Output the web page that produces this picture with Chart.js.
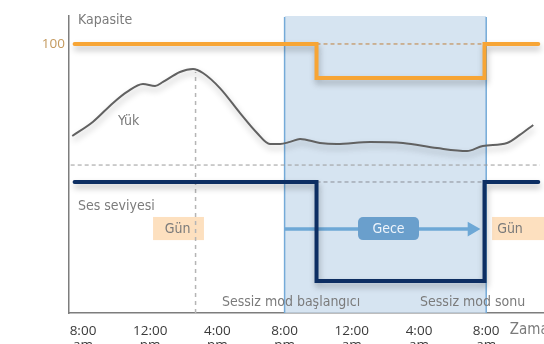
<!DOCTYPE html>
<html><head><meta charset="utf-8">
<script src="https://cdn.jsdelivr.net/npm/chart.js@4/dist/chart.umd.min.js"></script>
<style>html,body{margin:0;padding:0;background:#fff;}canvas{display:block}</style>
</head><body>
<canvas id="c" width="544" height="344"></canvas>
<script>
// x = hours after 8:00 am ; y = relative level (capacity = 100)
const tickHours   = [0, 4, 8, 12, 16, 20, 24];
const tickTimes   = ['8:00', '12:00', '4:00', '8:00', '12:00', '4:00', '8:00'];
const tickPeriods = ['am', 'pm', 'pm', 'pm', 'am', 'am', 'am'];
const yTickValues = [100];

const loadHours  = [-0.64, 0.6, 1.79, 2.62, 3.57, 4.29, 4.76, 5.77, 6.55, 7.14, 8.15, 9.35, 10.36, 11.13, 11.73, 12.32, 12.92, 14.1, 15.1, 17.1, 19.05, 21.07, 22.86, 23.8, 25.24, 26.0, 26.8];
const loadValues = [65.8, 71.1, 78.1, 82.2, 85.1, 84.4, 85.9, 89.6, 90.7, 89.2, 83.6, 74.3, 66.9, 62.8, 62.8, 63.6, 64.7, 63.2, 62.8, 63.6, 63.2, 61.3, 60.2, 62.1, 63.2, 66.2, 69.9];

const capacityHours  = [-0.5, 13.9, 13.9, 23.9, 23.9, 27.1];
const capacityValues = [100, 100, 87.4, 87.4, 100, 100];

const volumeHours  = [-0.5, 13.9, 13.9, 23.9, 23.9, 27.1];
const volumeValues = [48.7, 48.7, 11.9, 11.9, 48.7, 48.7];

const quietStart = 12, quietEnd = 24;
const stepStart = 13.9, stepEnd = 23.9;
const peakHour = 6.7, peakValue = 89.6;
const thresholdValue = 55;
const arrowValue = 31.2, arrowEnd = 23.15;

const X_MIN = -0.833, X_MAX = 27.44, Y_MIN = 0, Y_MAX = 110.4;

const pts = (xs, ys) => xs.map((x, i) => ({x, y: ys[i]}));

const NARROW = "'Liberation Sans Narrow','DejaVu Sans Condensed','Roboto',sans-serif";
const GRAY_TXT = '#7b7b7b';

const notes = [
  {text: 'Kapasite', x: -0.3, y: 108.9, color: GRAY_TXT, size: 14},
  {text: 'Yük', x: 2.08, y: 71.2, color: GRAY_TXT, size: 14},
  {text: 'Ses seviyesi', x: -0.3, y: 39.6, color: GRAY_TXT, size: 14},
  {text: 'Sessiz mod başlangıcı', x: 8.27, y: 3.9, color: GRAY_TXT, size: 14},
  {text: 'Sessiz mod sonu', x: 20.06, y: 3.9, color: GRAY_TXT, size: 14}
];
const dayBoxes = [
  {x0: 4.17, x1: 7.2, textAlign: 'right', textX: 6.4},
  {x0: 24.35, x1: 28.5, textAlign: 'left', textX: 24.65}
];
const nightBox = {x0: 16.37, x1: 20.0, text: 'Gece'};
const boxTop = 35.7, boxBottom = 27.1;

const annot = {
  id: 'annot',
  beforeDatasetsDraw(chart) {
    const {ctx, scales: {x, y}} = chart;
    ctx.save();
    dayBoxes.forEach(b => {
      const l = x.getPixelForValue(b.x0), r = x.getPixelForValue(b.x1);
      const t = y.getPixelForValue(boxTop), bt = y.getPixelForValue(boxBottom);
      ctx.fillStyle = '#fde0bf';
      ctx.fillRect(l, t, r - l, bt - t);
      ctx.fillStyle = '#7a7a7a';
      ctx.font = '14px ' + NARROW;
      ctx.textAlign = b.textAlign;
      ctx.textBaseline = 'middle';
      ctx.fillText('Gün', x.getPixelForValue(b.textX), (t + bt) / 2 + 1);
    });
    ctx.restore();
  },
  afterDatasetsDraw(chart) {
    const {ctx, scales: {x, y}} = chart;
    ctx.save();
    const l = x.getPixelForValue(nightBox.x0), r = x.getPixelForValue(nightBox.x1);
    const t = y.getPixelForValue(boxTop), bt = y.getPixelForValue(boxBottom);
    ctx.fillStyle = '#6a9fcc';
    ctx.beginPath();
    ctx.roundRect(l, t, r - l, bt - t, 5);
    ctx.fill();
    ctx.fillStyle = '#eef4fb';
    ctx.font = '14px ' + NARROW;
    ctx.textAlign = 'center';
    ctx.textBaseline = 'middle';
    ctx.fillText(nightBox.text, (l + r) / 2, (t + bt) / 2 + 1);
    notes.forEach(n => {
      ctx.fillStyle = n.color;
      ctx.font = n.size + 'px ' + NARROW;
      ctx.textAlign = 'left';
      ctx.textBaseline = 'middle';
      ctx.fillText(n.text, x.getPixelForValue(n.x), y.getPixelForValue(n.y));
    });
    ctx.fillStyle = GRAY_TXT;
    ctx.font = '15px ' + NARROW;
    ctx.textAlign = 'left';
    ctx.textBaseline = 'middle';
    ctx.fillText('Zaman', x.getPixelForValue(25.4), y.bottom + 17);
    ctx.restore();
  },
  beforeDatasetDraw(chart, args) {
    const ds = chart.data.datasets[args.index];
    if (ds.shadow) {
      const ctx = chart.ctx;
      ctx.save();
      ctx.shadowColor = 'rgba(0,0,0,0.28)';
      ctx.shadowBlur = 6;
      ctx.shadowOffsetY = 4;
      ctx.shadowOffsetX = 1;
    }
  },
  afterDatasetDraw(chart, args) {
    const ds = chart.data.datasets[args.index];
    if (ds.shadow) chart.ctx.restore();
  }
};

const base = {pointRadius: 0, fill: false, tension: 0};

new Chart(document.getElementById('c'), {
  type: 'line',
  data: {
    datasets: [
      {...base, label: 'quiet', data: [{x: quietStart, y: Y_MAX}, {x: quietEnd, y: Y_MAX}], fill: 'origin', backgroundColor: 'rgba(203,220,237,0.78)', borderWidth: 0, order: 10},
      {...base, label: 'qs', data: [{x: quietStart, y: 0}, {x: quietStart, y: Y_MAX - 0.4}], borderColor: '#74aad8', borderWidth: 1.5, order: 9},
      {...base, label: 'qe', data: [{x: quietEnd, y: 0}, {x: quietEnd, y: Y_MAX - 0.4}], borderColor: '#74aad8', borderWidth: 1.5, order: 9},
      {...base, label: 'threshold', data: [{x: X_MIN + 0.1, y: thresholdValue}, {x: 27.2, y: thresholdValue}], borderColor: '#9a9a9a', borderWidth: 1, borderDash: [4, 3], order: 8},
      {...base, label: 'peak', data: [{x: peakHour, y: 0}, {x: peakHour, y: peakValue}], borderColor: '#b5b5b5', borderWidth: 1.5, borderDash: [4, 4], order: 8},
      {...base, label: 'capRef', data: [{x: stepStart, y: 100}, {x: stepEnd, y: 100}], borderColor: '#c0813e', borderWidth: 1, borderDash: [4, 3], order: 8},
      {...base, label: 'volRef', data: [{x: stepStart, y: volumeValues[0]}, {x: stepEnd, y: volumeValues[0]}], borderColor: '#8a8f96', borderWidth: 1, borderDash: [4, 3], order: 8},
      {...base, label: 'Yük', data: pts(loadHours, loadValues), borderColor: '#616161', borderWidth: 2, tension: 0.4, cubicInterpolationMode: 'monotone', shadow: true, order: 5},
      {...base, label: 'arrow', data: [{x: quietStart, y: arrowValue}, {x: arrowEnd, y: arrowValue}], borderColor: '#6ea8d6', borderWidth: 3.5, order: 4},
      {...base, label: 'arrowHead', data: [{x: arrowEnd, y: arrowValue}], pointRadius: [8.5], pointStyle: 'triangle', pointRotation: 90, backgroundColor: '#6ea8d6', borderColor: '#6ea8d6', borderWidth: 0, showLine: false, order: 4},
      {...base, label: 'Kapasite', data: pts(capacityHours, capacityValues), borderColor: '#f7a535', borderWidth: 4, borderJoinStyle: 'miter', borderCapStyle: 'round', shadow: true, order: 2},
      {...base, label: 'Ses seviyesi', data: pts(volumeHours, volumeValues), borderColor: '#0d2e62', borderWidth: 4, borderJoinStyle: 'miter', borderCapStyle: 'round', shadow: true, order: 1}
    ]
  },
  options: {
    responsive: false,
    animation: false,
    devicePixelRatio: 1,
    layout: {autoPadding: false, padding: {top: 16, left: 0, right: 0, bottom: 0}},
    plugins: {legend: {display: false}, tooltip: {enabled: false}},
    scales: {
      x: {
        type: 'linear', min: X_MIN, max: X_MAX,
        afterBuildTicks: s => { s.ticks = tickHours.map(v => ({value: v})); },
        afterFit: s => { s.height = 31; s.paddingLeft = 0; s.paddingRight = 0; },
        grid: {display: false, drawTicks: false},
        border: {display: true, color: '#7d7d7d', width: 1.5},
        ticks: {autoSkip: false, maxRotation: 0, padding: 11, color: '#3a3a3a', font: {family: "'Open Sans', sans-serif", size: 13.5, lineHeight: 1.05},
          callback: (v, i) => [tickTimes[i], tickPeriods[i]]}
      },
      y: {
        min: Y_MIN, max: Y_MAX,
        afterBuildTicks: s => { s.ticks = yTickValues.map(v => ({value: v})); },
        afterFit: s => { s.width = 69; s.paddingTop = 0; s.paddingBottom = 0; },
        grid: {display: false, drawTicks: false},
        border: {display: true, color: '#7d7d7d', width: 1.5},
        ticks: {padding: 4, color: '#c49a5f', font: {family: "'Open Sans', sans-serif", size: 13.5}, callback: v => String(v)}
      }
    }
  },
  plugins: [annot]
});
</script>
</body></html>
